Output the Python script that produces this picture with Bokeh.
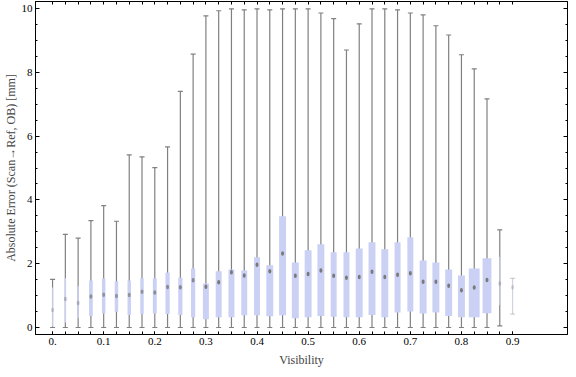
from bokeh.plotting import figure
from bokeh.models import FixedTicker, LinearAxis, Range1d
from bokeh.embed import file_html
from bokeh.resources import INLINE

# --- data ---
visibility = [round(i * 0.025, 3) for i in range(37)]
whisker_lo = [0.0] * 35 + [0.05, 0.42]
whisker_hi = [1.51, 2.92, 2.80, 3.35, 3.82, 3.33, 5.41, 5.35, 5.01, 5.66, 7.40, 8.57, 9.77,
              9.93, 9.99, 9.96, 9.99, 9.96, 9.99, 9.99, 9.99, 9.86, 9.68, 8.70, 9.52, 9.99, 9.99,
              9.96, 9.86, 9.80, 9.46, 9.17, 8.55, 8.11, 7.17, 3.06, 1.54]
q3 = [1.25, 1.54, 1.29, 1.47, 1.54, 1.45, 1.47, 1.54, 1.54, 1.72, 1.56, 1.85, 1.38,
      1.76, 1.82, 1.79, 2.20, 1.95, 3.49, 2.04, 2.42, 2.61, 2.36, 2.36, 2.48, 2.67, 2.45,
      2.67, 2.83, 2.10, 2.04, 1.82, 1.63, 1.85, 2.17, 2.22, 1.40]
q1 = [0.03, 0.16, 0.29, 0.36, 0.44, 0.49, 0.39, 0.42, 0.44, 0.42, 0.39, 0.32, 0.26,
      0.32, 0.32, 0.38, 0.38, 0.35, 0.38, 0.29, 0.32, 0.36, 0.34, 0.32, 0.32, 0.39, 0.32,
      0.47, 0.50, 0.44, 0.47, 0.36, 0.32, 0.32, 0.45, 0.70, 0.60]
median = [0.55, 0.89, 0.77, 0.97, 1.03, 0.99, 1.02, 1.12, 1.10, 1.27, 1.26, 1.48, 1.28,
          1.42, 1.73, 1.63, 1.97, 1.76, 2.32, 1.62, 1.68, 1.79, 1.62, 1.56, 1.58, 1.75, 1.58,
          1.65, 1.70, 1.43, 1.43, 1.31, 1.17, 1.25, 1.49, 1.38, 1.26]
# relative box weight (box width relative to the widest box)
box_weight = [0.09, 0.14, 0.14, 0.34, 0.32, 0.32, 0.32, 0.32, 0.36, 0.39, 0.39, 0.39, 0.55,
              0.55, 0.55, 0.55, 0.55, 0.64, 0.64, 0.64, 0.64, 0.64, 0.55, 0.55, 0.64, 0.64, 0.64,
              0.55, 0.55, 0.64, 0.64, 0.64, 0.64, 1.0, 0.82, 0.09, 0.05]
x_major = [0.0, 0.1, 0.2, 0.3, 0.4, 0.5, 0.6, 0.7, 0.8, 0.9]
x_tick_labels = ["0.", "0.1", "0.2", "0.3", "0.4", "0.5", "0.6", "0.7", "0.8", "0.9"]
y_major = [0, 2, 4, 6, 8, 10]
y_tick_labels = ["0", "2", "4", "6", "8", "10"]

MAX_BOX_W = 0.0212
box_w = [b * MAX_BOX_W for b in box_weight]
med_alpha = [min(1.0, 0.2 + b * 1.6) for b in box_weight]
wh_alpha = [1.0 if b > 0.06 else 0.35 for b in box_weight]

FONT = "Liberation Serif"
y_minor = [i * 0.5 for i in range(21)]

p = figure(width=568, height=369, output_backend="svg", toolbar_location=None,
           x_range=Range1d(-0.0334, 1.0075), y_range=Range1d(-0.22, 10.22),
           min_border_left=20, min_border_right=1, min_border_top=1, min_border_bottom=20)
p.xgrid.visible = False
p.ygrid.visible = False
p.outline_line_color = "black"
p.outline_line_alpha = 1.0
p.background_fill_color = "white"
p.border_fill_color = "white"

# whiskers
p.segment(x0=visibility, y0=whisker_lo, x1=visibility, y1=whisker_hi,
          line_color="#808080", line_width=1.2, line_alpha=wh_alpha)
p.scatter(x=visibility, y=whisker_hi, marker="dash", size=5, line_color="#808080",
          line_width=1.2, line_alpha=wh_alpha)
p.scatter(x=visibility, y=whisker_lo, marker="dash", size=5, line_color="#808080",
          line_width=1.2, line_alpha=wh_alpha)
# boxes
p.vbar(x=visibility, width=box_w, bottom=q1, top=q3, fill_color="#CBD1F5", line_color=None)
# medians
p.ellipse(x=visibility, y=median, width=3, height=4.5, width_units="screen",
          height_units="screen", fill_color="#7A7A7A", line_color=None, fill_alpha=med_alpha)

# axes
xa = p.xaxis[0]
xa.ticker = FixedTicker(ticks=x_major, minor_ticks=visibility)
xa.major_label_overrides = {v: s for v, s in zip(x_major, x_tick_labels)}
ya = p.yaxis[0]
ya.ticker = FixedTicker(ticks=y_major, minor_ticks=y_minor)
ya.major_label_overrides = {v: s for v, s in zip(y_major, y_tick_labels)}

top = LinearAxis(ticker=FixedTicker(ticks=visibility, minor_ticks=[]))
top.major_label_overrides = {v: "" for v in visibility}
right = LinearAxis(ticker=FixedTicker(ticks=y_major, minor_ticks=y_minor))
right.major_label_overrides = {v: "" for v in y_major}
p.add_layout(top, "above")
p.add_layout(right, "right")

for ax in (xa, ya, top, right):
    ax.axis_line_color = "black"
    ax.major_tick_line_color = "black"
    ax.minor_tick_line_color = "black"
    ax.major_tick_out = 0
    ax.minor_tick_out = 0
    ax.major_label_text_font = FONT
    ax.major_label_text_font_size = "11px"
    ax.major_label_text_color = "black"
    ax.axis_label_text_font = FONT
    ax.axis_label_text_font_style = "normal"
    ax.axis_label_text_font_size = "12px"

xa.major_tick_in = 3
xa.minor_tick_in = 3
top.major_tick_in = 3
ya.major_tick_in = 4
ya.minor_tick_in = 2
right.major_tick_in = 4
right.minor_tick_in = 2
for ax in (top, right):
    ax.major_label_text_font_size = "0px"
    ax.major_label_standoff = 0

xa.major_label_standoff = 3
ya.major_label_standoff = 3
xa.axis_label = "Visibility"
ya.axis_label = "Absolute Error (Scan\u2192Ref, OB) [mm]"
xa.axis_label_standoff = 5
ya.axis_label_standoff = 1

open("out.html", "w").write(file_html(p, INLINE))
